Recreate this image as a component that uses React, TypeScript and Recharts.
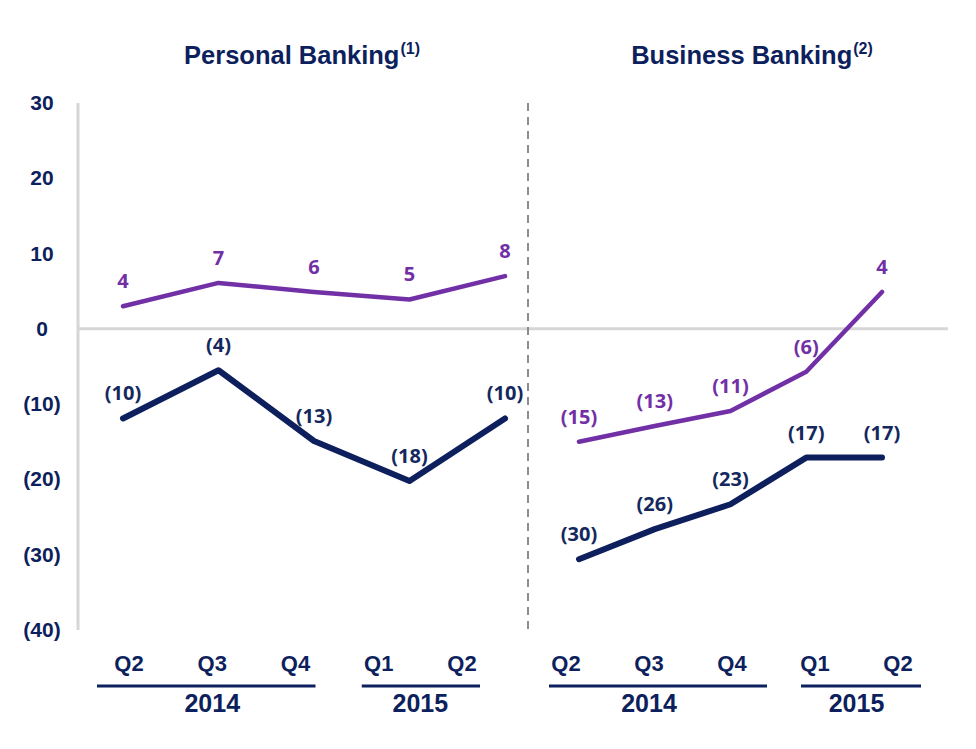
import React from 'react';
import { LineChart, Line, XAxis, YAxis, ReferenceLine, LabelList } from 'recharts';

// ---------- data ----------
const periods = ['2014 Q2', '2014 Q3', '2014 Q4', '2015 Q1', '2015 Q2'];
const quarterLabels = ['Q2', 'Q3', 'Q4', 'Q1', 'Q2'];
const yearLabels = ['2014', '2014', '2014', '2015', '2015'];
const yTicks = [-40, -30, -20, -10, 0, 10, 20, 30];

const personalPurple = [3, 6.1, 4.9, 3.9, 7];
const personalPurpleLabels = [4, 7, 6, 5, 8];
const personalNavy = [-11.9, -5.5, -14.9, -20.2, -11.9];
const personalNavyLabels = [-10, -4, -13, -18, -10];

const businessPurple = [-15, -12.9, -10.9, -5.7, 4.9];
const businessPurpleLabels = [-15, -13, -11, -6, 4];
const businessNavy = [-30.6, -26.6, -23.3, -17.1, -17.1];
const businessNavyLabels = [-30, -26, -23, -17, -17];

// ---------- style ----------
const NAVY = '#0d1f5c';
const LABEL_NAVY = '#14285e';
const PURPLE = '#7230a6';
const GRID = '#d6d6d6';
const AXIS_FONT = '"Liberation Sans", Arial, sans-serif';
const LABEL_FONT = '"Open Sans", sans-serif';

const fmt = (v: number) => (v < 0 ? `(${Math.abs(v)})` : `${v}`);

const buildRows = (purple: number[], purpleL: number[], navy: number[], navyL: number[]) =>
  periods.map((p, i) => ({
    period: p,
    purple: purple[i],
    purpleLabel: purpleL[i],
    navy: navy[i],
    navyLabel: navyL[i],
  }));

const personalRows = buildRows(personalPurple, personalPurpleLabels, personalNavy, personalNavyLabels);
const businessRows = buildRows(businessPurple, businessPurpleLabels, businessNavy, businessNavyLabels);

// year groups derived from year labels
const groups: { year: string; start: number; end: number }[] = [];
yearLabels.forEach((y, i) => {
  const g = groups[groups.length - 1];
  if (g && g.year === y) g.end = i;
  else groups.push({ year: y, start: i, end: i });
});

const H = 749;
const PLOT_TOP = 103;
const X_AXIS_H = 119;

const QuarterTick = (props: any) => {
  const { x, y, index, step, ext } = props;
  const gi = groups.findIndex((g) => g.start === index);
  const els: any[] = [
    <text
      key="q"
      x={x}
      y={y + 41}
      textAnchor="middle"
      fill={NAVY}
      fontFamily={AXIS_FONT}
      fontWeight={700}
      fontSize={22}
    >
      {quarterLabels[index]}
    </text>,
  ];
  if (gi >= 0) {
    const g = groups[gi];
    const span = (g.end - g.start) * step;
    const [l, r] = ext[gi];
    els.push(
      <line key="u" x1={x - l} x2={x + span + r} y1={y + 56} y2={y + 56} stroke={NAVY} strokeWidth={3} />,
      <text
        key="y"
        x={x + span / 2}
        y={y + 82}
        textAnchor="middle"
        fill={NAVY}
        fontFamily={AXIS_FONT}
        fontWeight={700}
        fontSize={25}
      >
        {g.year}
      </text>
    );
  }
  return <g>{els}</g>;
};

const YTick = (props: any) => {
  const { x, y, payload } = props;
  return (
    <text
      x={x - 36}
      y={y + 7}
      textAnchor="middle"
      fill={NAVY}
      fontFamily={AXIS_FONT}
      fontWeight={700}
      fontSize={21}
    >
      {fmt(payload.value)}
    </text>
  );
};

const makeLabel = (color: string) => (p: any) => {
  const { x, y, value } = p;
  return (
    <text
      x={x}
      y={y - 18}
      textAnchor="middle"
      fill={color}
      fontFamily={LABEL_FONT}
      fontWeight={700}
      fontSize={20}
    >
      {fmt(value)}
    </text>
  );
};

type PanelProps = {
  rows: any[];
  left: number;
  width: number;
  margin: { top: number; right: number; bottom: number; left: number };
  yAxisWidth: number;
  showYTicks: boolean;
  yAxisLine: any;
  dataPad: { left: number; right: number };
  labelPad: { left: number; right: number };
  ext: number[][];
};

const Panel = ({ rows, left, width, margin, yAxisWidth, showYTicks, yAxisLine, dataPad, labelPad, ext }: PanelProps) => {
  const plotW = width - margin.left - margin.right - yAxisWidth;
  const step = (plotW - labelPad.left - labelPad.right) / (periods.length - 1);
  return (
    <div style={{ position: 'absolute', left, top: 0 }}>
      <LineChart width={width} height={H} data={rows} margin={margin}>
        <XAxis xAxisId="data" dataKey="period" hide height={0} padding={dataPad} />
        <XAxis
          xAxisId="labels"
          dataKey="period"
          height={X_AXIS_H}
          padding={labelPad}
          axisLine={false}
          tickLine={false}
          tickSize={0}
          tickMargin={0}
          interval={0}
          tick={(p: any) => <QuarterTick {...p} step={step} ext={ext} />}
        />
        <YAxis
          domain={[-40, 30]}
          ticks={yTicks}
          width={yAxisWidth}
          tickLine={false}
          tickSize={0}
          tickMargin={0}
          axisLine={yAxisLine}
          tick={showYTicks ? (p: any) => <YTick {...p} /> : false}
          interval={0}
        />
        <ReferenceLine y={0} xAxisId="data" stroke={GRID} strokeWidth={3} />
        <Line
          xAxisId="data"
          type="linear"
          dataKey="purple"
          stroke={PURPLE}
          strokeWidth={4.5}
          dot={false}
          strokeLinejoin="round"
          strokeLinecap="round"
          isAnimationActive={false}
        >
          <LabelList dataKey="purpleLabel" content={makeLabel(PURPLE)} />
        </Line>
        <Line
          xAxisId="data"
          type="linear"
          dataKey="navy"
          stroke={NAVY}
          strokeWidth={6}
          dot={false}
          strokeLinejoin="round"
          strokeLinecap="round"
          isAnimationActive={false}
        >
          <LabelList dataKey="navyLabel" content={makeLabel(LABEL_NAVY)} />
        </Line>
      </LineChart>
    </div>
  );
};

const Title = ({ text, note, center }: { text: string; note: string; center: number }) => (
  <div
    style={{
      position: 'absolute',
      top: 40,
      left: center - 200,
      width: 400,
      textAlign: 'center',
      fontFamily: AXIS_FONT,
      fontWeight: 700,
      fontSize: 25.5,
      color: NAVY,
      lineHeight: '30px',
      whiteSpace: 'nowrap',
    }}
  >
    {text}
    <sup style={{ fontSize: 16, verticalAlign: 'top', position: 'relative', top: -6, marginLeft: 1 }}>{note}</sup>
  </div>
);

export default function App() {
  return (
    <div style={{ position: 'absolute', left: 0, top: 0, width: 976, height: H, background: '#fff', overflow: 'hidden' }}>
      <Panel
        rows={personalRows}
        left={0}
        width={528}
        margin={{ top: PLOT_TOP, right: 0, bottom: 0, left: 0 }}
        yAxisWidth={78}
        showYTicks={true}
        yAxisLine={{ stroke: GRID, strokeWidth: 3 }}
        dataPad={{ left: 45, right: 23 }}
        labelPad={{ left: 51, right: 66 }}
        ext={[[32, 20], [17, 18]]}
      />
      <Panel
        rows={businessRows}
        left={518}
        width={458}
        margin={{ top: PLOT_TOP, right: 28, bottom: 0, left: 0 }}
        yAxisWidth={10}
        showYTicks={false}
        yAxisLine={{ stroke: '#8c8c8c', strokeWidth: 2, strokeDasharray: '8 6' }}
        dataPad={{ left: 51, right: 66 }}
        labelPad={{ left: 38, right: 50 }}
        ext={[[17, 35], [14, 23]]}
      />
      <Title text="Personal Banking" note="(1)" center={302} />
      <Title text="Business Banking" note="(2)" center={752} />
    </div>
  );
}
